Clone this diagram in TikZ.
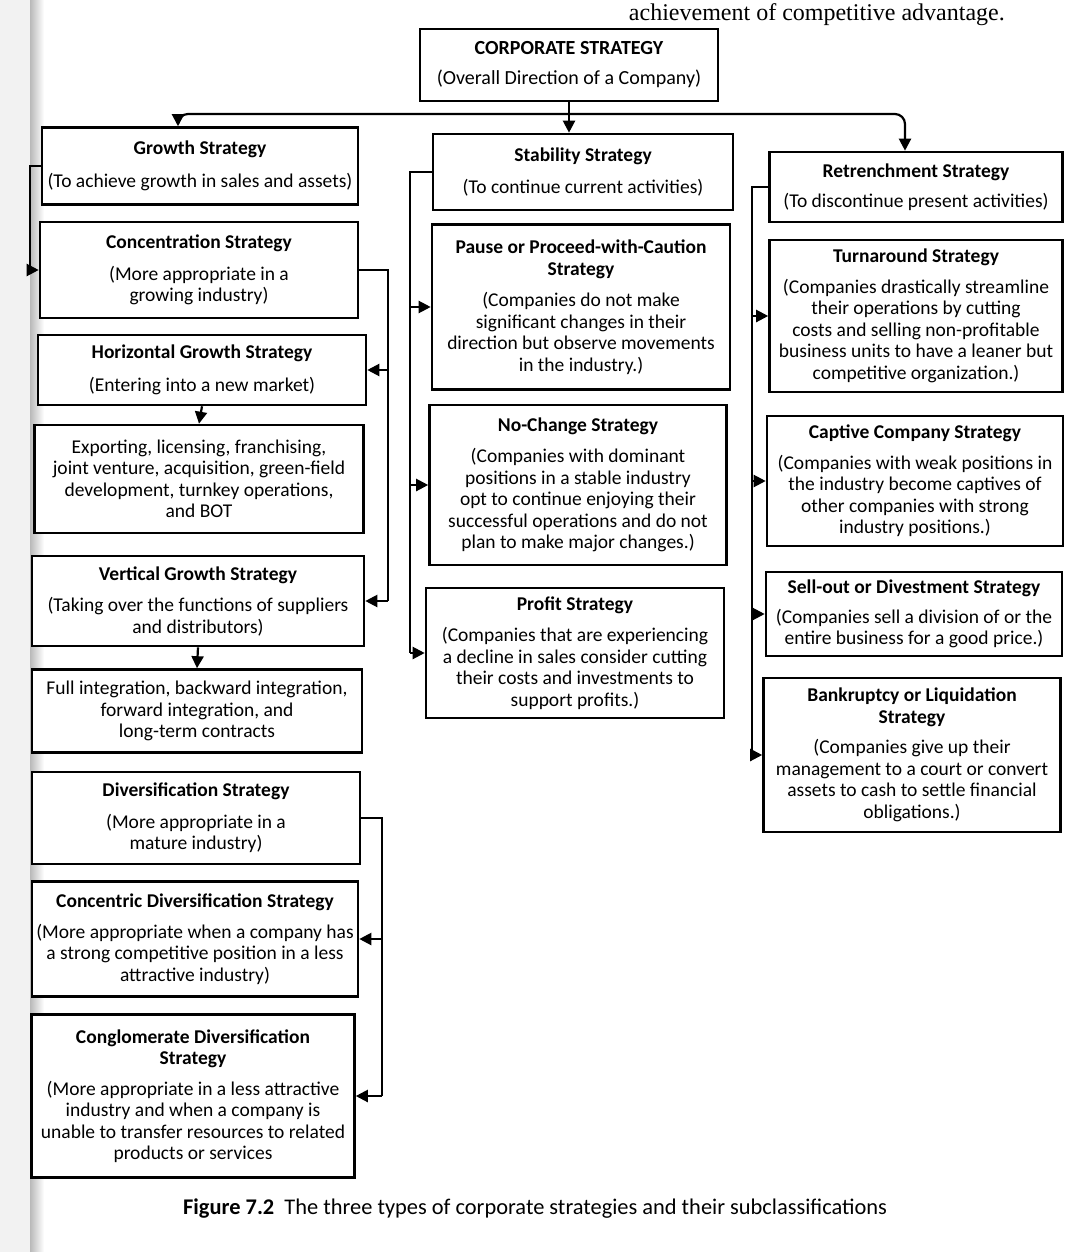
\documentclass[tikz,border=0pt]{standalone}
\usepackage{fontspec}
\setmainfont{Carlito}
\newfontfamily\bookserif{Liberation Serif}
\usetikzlibrary{arrows.meta}
\begin{document}
\begin{tikzpicture}[x=1pt,y=-1pt,
  box/.style={draw, fill=white, line width=2.6pt, align=center, inner sep=0pt, font=\fontsize{19.5}{21.5}\selectfont},
  arr/.style={line width=2.2pt, -{Triangle[length=12pt,width=12pt]}},
  con/.style={line width=2.2pt}]
% page
\fill[white] (0,0) rectangle (1076,1252);
\useasboundingbox (0,0) rectangle (1076,1252);
\fill[gray!10] (0,0) rectangle (30,1252);
\shade[left color=gray!55, right color=white] (30,0) rectangle (44,1252);
% top running text
\node[anchor=base east, inner sep=0pt, font=\bookserif\fontsize{24}{24}\selectfont] (toptext) at (1005,21) {achievement of competitive advantage.};
% top
\node[box, minimum width=298, minimum height=72, font=\fontsize{20}{22}\selectfont] (corp) at (569,65) {\textbf{CORPORATE STRATEGY}\\[8pt](Overall Direction of a Company)};
\node[box, minimum width=316, minimum height=77] (growth) at (200,166) {\textbf{Growth Strategy}\\[11pt](To achieve growth in sales and assets)};
\node[box, minimum width=300, minimum height=76] (stab) at (583,172) {\textbf{Stability Strategy}\\[10pt](To continue current activities)};
\node[box, minimum width=293, minimum height=70] (retr) at (916,187) {\textbf{Retrenchment Strategy}\\[9pt](To discontinue present activities)};
% left column
\node[box, minimum width=318, minimum height=96] (conc) at (199,270) {\textbf{Concentration Strategy}\\[10pt](More appropriate in a\\growing industry)};
\node[box, minimum width=328, minimum height=70] (horiz) at (202,370) {\textbf{Horizontal Growth Strategy}\\[11pt](Entering into a new market)};
\node[box, minimum width=329, minimum height=108] (export) at (199,479) {Exporting, licensing, franchising,\\joint venture, acquisition, green-field\\development, turnkey operations,\\and BOT};
\node[box, minimum width=332, minimum height=90] (vert) at (198,601) {\textbf{Vertical Growth Strategy}\\[10pt](Taking over the functions of suppliers\\and distributors)};
\node[box, minimum width=330, minimum height=83] (full) at (197,711) {Full integration, backward integration,\\forward integration, and\\long-term contracts};
\node[box, minimum width=328, minimum height=92] (div) at (196,818) {\textbf{Diversification Strategy}\\[10pt](More appropriate in a\\mature industry)};
\node[box, minimum width=326, minimum height=115] (concen) at (195,939) {\textbf{Concentric Diversification Strategy}\\[9pt](More appropriate when a company has\\a strong competitive position in a less\\attractive industry)};
\node[box, minimum width=323, minimum height=163] (congl) at (193,1096) {\textbf{Conglomerate Diversification}\\\textbf{Strategy}\\[9pt](More appropriate in a less attractive\\industry and when a company is\\unable to transfer resources to related\\products or services};
% middle column
\node[box, minimum width=298, minimum height=165] (pause) at (581,307) {\textbf{Pause or Proceed-with-Caution}\\\textbf{Strategy}\\[10pt](Companies do not make\\significant changes in their\\direction but observe movements\\in the industry.)};
\node[box, minimum width=297, minimum height=160] (noch) at (578,485) {\textbf{No-Change Strategy}\\[10pt](Companies with dominant\\positions in a stable industry\\opt to continue enjoying their\\successful operations and do not\\plan to make major changes.)};
\node[box, minimum width=298, minimum height=130] (profit) at (575,653) {\textbf{Profit Strategy}\\[10pt](Companies that are experiencing\\a decline in sales consider cutting\\their costs and investments to\\support profits.)};
% right column
\node[box, minimum width=293, minimum height=152] (turn) at (916,316) {\textbf{Turnaround Strategy}\\[9pt](Companies drastically streamline\\their operations by cutting\\costs and selling non-profitable\\business units to have a leaner but\\competitive organization.)};
\node[box, minimum width=296, minimum height=130] (capt) at (915,481) {\textbf{Captive Company Strategy}\\[9pt](Companies with weak positions in\\the industry become captives of\\other companies with strong\\industry positions.)};
\node[box, minimum width=296, minimum height=84] (sell) at (914,614) {\textbf{Sell-out or Divestment Strategy}\\[8pt](Companies sell a division of or the\\entire business for a good price.)};
\node[box, minimum width=297, minimum height=154] (bank) at (912,755) {\textbf{Bankruptcy or Liquidation}\\\textbf{Strategy}\\[9pt](Companies give up their\\management to a court or convert\\assets to cash to settle financial\\obligations.)};
% caption
\node[anchor=base west, inner sep=0pt, font=\fontsize{22.4}{24}\selectfont] (cap) at (183,1214) {\textbf{Figure 7.2}\ \ The three types of corporate strategies and their subclassifications};
% helper coordinates
\coordinate (bar) at (0,114);
\coordinate (gx) at (178,0);
\coordinate (rx) at (905,0);
\coordinate (gl) at (30,0);
\coordinate (ls1) at (388,0);
\coordinate (ls2) at (382,0);
\coordinate (ms) at (410,0);
\coordinate (rs) at (752,0);
% top connectors
\draw[arr] (corp.south) -- (corp.south |- stab.north);
\draw[arr, rounded corners=10pt] (corp.south |- bar) -| (gx |- growth.north);
\draw[arr, rounded corners=10pt] (corp.south |- bar) -| (rx |- retr.north);
% growth to concentration
\draw[arr] (growth.west) -- (gl |- growth.west) -- (gl |- conc.west) -- (conc.west);
% concentration branch
\draw[con] (conc.east) -| (ls1 |- vert.east);
\draw[arr] (ls1 |- horiz.east) -- (horiz.east);
\draw[arr] (ls1 |- vert.east) -- (vert.east);
\draw[arr] (horiz.south) -- (export.north);
\draw[arr] (vert.south) -- (full.north);
% diversification branch
\draw[con] (div.east) -| (ls2 |- congl.east);
\draw[arr] (ls2 |- concen.east) -- (concen.east);
\draw[arr] (ls2 |- congl.east) -- (congl.east);
% stability branch
\draw[con] (stab.west) -| (ms |- profit.west);
\draw[arr] (ms |- pause.west) -- (pause.west);
\draw[arr] (ms |- noch.west) -- (noch.west);
\draw[arr] (ms |- profit.west) -- (profit.west);
% retrenchment branch
\draw[con] (retr.west) -| (rs |- bank.west);
\draw[arr] (rs |- turn.west) -- (turn.west);
\draw[arr] (rs |- capt.west) -- (capt.west);
\draw[arr] (rs |- sell.west) -- (sell.west);
\draw[arr] (rs |- bank.west) -- (bank.west);
\end{tikzpicture}
\end{document}
